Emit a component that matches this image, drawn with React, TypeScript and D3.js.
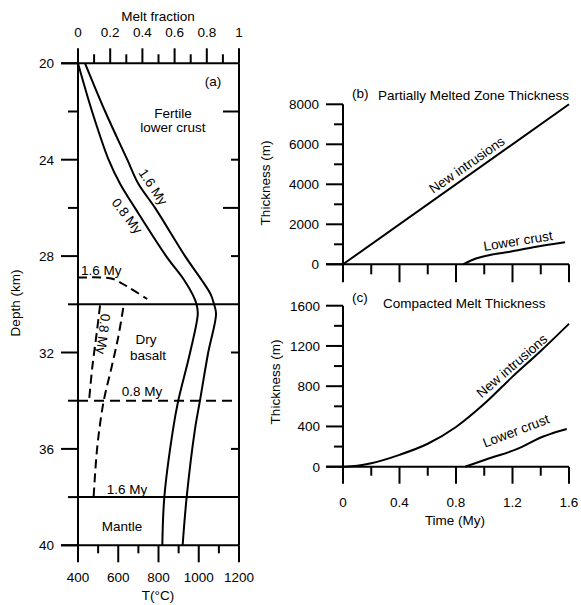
import React from "react";
import * as d3 from "d3";

// ---------- Panel (a) data ----------
const solidDepths = [20, 22, 24, 25, 26, 28, 29, 29.6, 30, 30.4, 32, 34, 35.2, 38, 40];
const temp08 = [400, 470, 552, 609, 683, 838, 928, 970, 989, 995, 957, 898, 872, 829, 819];
const temp16 = [435, 535, 645, 700, 783, 932, 1015, 1060, 1076, 1086, 1047, 1006, 981, 940, 920];

const meltUpper16Depth = [28.89, 28.89, 28.95, 29.25, 29.78];
const meltUpper16Frac = [0, 0.157, 0.219, 0.302, 0.43];
const meltBasalt08Depth = [30.04, 31.2, 32.6, 33.9];
const meltBasalt08Frac = [0.137, 0.116, 0.089, 0.07];
const meltBasalt16Depth = [30.15, 31.36, 32.6, 34, 35.9, 38];
const meltBasalt16Frac = [0.281, 0.25, 0.209, 0.16, 0.12, 0.097];

const boundaryDepths = [30, 34, 38];
const boundaryDashed = [false, true, false];

const depthMajorTicks = [20, 24, 28, 32, 36, 40];
const depthMinorTicks = [22, 26, 30, 34, 38];
const rightTicksLong = [22, 26];
const rightTicksShort = [24, 28, 32, 36];
const tempMajorTicks = [400, 600, 800, 1000, 1200];
const tempMinorTicks = [500, 700, 900, 1100];
const meltMajorTicks = [0, 0.2, 0.4, 0.6, 0.8, 1];
const meltMinorTicks = [0.1, 0.3, 0.5, 0.7, 0.9];

// ---------- Panel (b) data ----------
const timeNewB = [0, 1.6];
const thickNewB = [0, 8000];
const timeLowerB = [0.85, 0.946, 1.041, 1.182, 1.347, 1.572];
const thickLowerB = [0, 300, 465, 630, 850, 1100];
const bMajorTicks = [0, 2000, 4000, 6000, 8000];
const bMinorTicks = [1000, 3000, 5000, 7000];

// ---------- Panel (c) data ----------
const timeNewC = [0, 0.1, 0.2, 0.4, 0.6, 0.8, 1.0, 1.2, 1.4, 1.6];
const thickNewC = [0, 10, 35, 118, 228, 395, 625, 895, 1150, 1420];
const timeLowerC = [0.864, 1.017, 1.23, 1.418, 1.465, 1.584];
const thickLowerC = [0, 74, 174, 300, 324, 374];
const cMajorTicks = [0, 400, 800, 1200, 1600];
const cMinorTicks = [200, 600, 1000, 1400];

const timeMajorTicks = [0, 0.4, 0.8, 1.2, 1.6];
const timeMinorTicks = [0.2, 0.6, 1.0, 1.4];

const FONT = "'Liberation Sans', Arial, Helvetica, sans-serif";
const FS = 13.5;

export default function App() {
  // Scales panel (a)
  const xT = d3.scaleLinear().domain([400, 1200]).range([78, 239]);
  const xF = d3.scaleLinear().domain([0, 1]).range([78, 239]);
  const yD = d3.scaleLinear().domain([20, 40]).range([63.3, 545.3]);

  // Scales panel (b), (c)
  const xTime = d3.scaleLinear().domain([0, 1.6]).range([343, 569]);
  const yB = d3.scaleLinear().domain([0, 8000]).range([264.3, 104.3]);
  const yC = d3.scaleLinear().domain([0, 1600]).range([466.7, 305.7]);

  const solidLine = (temps: number[]) =>
    d3
      .line<number>()
      .x((d, i) => xT(temps[i]))
      .y((d) => yD(d))
      .curve(d3.curveCatmullRom.alpha(0.5))(solidDepths) || "";

  const meltLine = (depths: number[], fracs: number[]) =>
    d3
      .line<number>()
      .x((d, i) => xF(fracs[i]))
      .y((d) => yD(d))
      .curve(d3.curveCatmullRom.alpha(0.5))(depths) || "";

  const timeLine = (ts: number[], vs: number[], ys: d3.ScaleLinear<number, number>) =>
    d3
      .line<number>()
      .x((d) => xTime(d))
      .y((d, i) => ys(vs[i]))
      .curve(d3.curveMonotoneX)(ts) || "";

  const txt = (x: number, y: number, s: string, anchor: string = "middle", extra: any = {}) => (
    <text x={x} y={y} textAnchor={anchor as any} fontFamily={FONT} fontSize={FS} fill="#000" {...extra}>
      {s}
    </text>
  );

  const sw = 2;
  const dash = "10,6";

  return (
    <svg width={581} height={605} style={{ position: "absolute", left: 0, top: 0 }}>
      <rect x={0} y={0} width={581} height={605} fill="#fff" />
      {/* ================= Panel (a) ================= */}
      <g stroke="#000" strokeWidth={sw} fill="none">
        <line x1={xT(400)} x2={xT(400)} y1={yD(20)} y2={yD(40)} />
        <line x1={xT(1200)} x2={xT(1200)} y1={yD(20)} y2={yD(40)} />
        <line x1={xT(400) - 17} x2={xT(1200)} y1={yD(20)} y2={yD(20)} />
        <line x1={xT(400) - 17} x2={xT(1200)} y1={yD(40)} y2={yD(40)} />
        {depthMajorTicks.map((d) => (
          <line key={"lm" + d} x1={xT(400) - 17} x2={xT(400)} y1={yD(d)} y2={yD(d)} />
        ))}
        {depthMinorTicks.map((d) => (
          <line key={"ln" + d} x1={xT(400) - 10} x2={xT(400)} y1={yD(d)} y2={yD(d)} />
        ))}
        {rightTicksLong.map((d) => (
          <line key={"rl" + d} x1={xT(1200) - 16} x2={xT(1200)} y1={yD(d)} y2={yD(d)} />
        ))}
        {rightTicksShort.map((d) => (
          <line key={"rs" + d} x1={xT(1200) - 8} x2={xT(1200)} y1={yD(d)} y2={yD(d)} />
        ))}
        {meltMajorTicks.map((f) => (
          <line key={"tm" + f} x1={xF(f)} x2={xF(f)} y1={yD(20) - 15} y2={yD(20)} />
        ))}
        {meltMinorTicks.map((f) => (
          <line key={"tn" + f} x1={xF(f)} x2={xF(f)} y1={yD(20) - 9} y2={yD(20)} />
        ))}
        {tempMajorTicks.map((t) => (
          <line key={"bm" + t} x1={xT(t)} x2={xT(t)} y1={yD(40)} y2={yD(40) + 17} />
        ))}
        {tempMinorTicks.map((t) => (
          <line key={"bn" + t} x1={xT(t)} x2={xT(t)} y1={yD(40)} y2={yD(40) + 8} />
        ))}
        {boundaryDepths.map((d, i) => (
          <line
            key={"bd" + d}
            x1={xT(400)}
            x2={xT(1200)}
            y1={yD(d)}
            y2={yD(d)}
            strokeDasharray={boundaryDashed[i] ? dash : undefined}
          />
        ))}
        <path d={solidLine(temp08)} />
        <path d={solidLine(temp16)} />
        <path d={meltLine(meltUpper16Depth, meltUpper16Frac)} strokeDasharray="9,5" />
        <path d={meltLine(meltBasalt08Depth, meltBasalt08Frac)} strokeDasharray="9,5" />
        <path d={meltLine(meltBasalt16Depth, meltBasalt16Frac)} strokeDasharray="9,5" />
      </g>
      {txt(158, 21, "Melt fraction")}
      {meltMajorTicks.map((f) => (
        <React.Fragment key={"tl" + f}>{txt(xF(f), 37, String(f))}</React.Fragment>
      ))}
      {depthMajorTicks.map((d) => (
        <React.Fragment key={"dl" + d}>{txt(54, yD(d) + 5, String(d), "end")}</React.Fragment>
      ))}
      {tempMajorTicks.map((t) => (
        <React.Fragment key={"Tl" + t}>{txt(xT(t), 582, String(t))}</React.Fragment>
      ))}
      {txt(158, 600, "T(°C)")}
      {txt(0, 0, "Depth (km)", "middle", { transform: "translate(20,303) rotate(-90)" })}
      {txt(213, 86, "(a)")}
      {txt(173, 118, "Fertile")}
      {txt(173, 132, "lower crust")}
      {txt(81, 275, "1.6 My", "start")}
      {txt(146, 344, "Dry")}
      {txt(148, 360, "basalt")}
      {txt(142, 396, "0.8 My")}
      {txt(127, 494, "1.6 My")}
      {txt(122, 531, "Mantle")}
      {txt(0, 0, "1.6 My", "middle", { transform: "translate(153,187) rotate(56)", dominantBaseline: "central" })}
      {txt(0, 0, "0.8 My", "middle", { transform: "translate(127,216) rotate(52)", dominantBaseline: "central" })}
      {txt(0, 0, "0.8 My", "middle", { transform: "translate(103,334) rotate(97)", dominantBaseline: "central" })}

      {/* ================= Panel (b) ================= */}
      <g stroke="#000" strokeWidth={sw} fill="none">
        <line x1={xTime(0)} x2={xTime(0)} y1={yB(8000)} y2={yB(0)} />
        <line x1={xTime(0) - 17} x2={xTime(1.6)} y1={yB(0)} y2={yB(0)} />
        {bMajorTicks.map((v) => (
          <line key={"bym" + v} x1={xTime(0) - 17} x2={xTime(0)} y1={yB(v)} y2={yB(v)} />
        ))}
        {bMinorTicks.map((v) => (
          <line key={"byn" + v} x1={xTime(0) - 9} x2={xTime(0)} y1={yB(v)} y2={yB(v)} />
        ))}
        {timeMajorTicks.map((t) => (
          <line key={"bxm" + t} x1={xTime(t)} x2={xTime(t)} y1={yB(0)} y2={yB(0) + 18} />
        ))}
        {timeMinorTicks.map((t) => (
          <line key={"bxn" + t} x1={xTime(t)} x2={xTime(t)} y1={yB(0)} y2={yB(0) + 10} />
        ))}
        <path d={timeLine(timeNewB, thickNewB, yB)} />
        <path d={timeLine(timeLowerB, thickLowerB, yB)} />
      </g>
      {txt(352, 98, "(b)", "start")}
      {txt(378, 100, "Partially Melted Zone Thickness", "start")}
      {bMajorTicks.map((v) => (
        <React.Fragment key={"byl" + v}>{txt(319, yB(v) + 5, String(v), "end")}</React.Fragment>
      ))}
      {txt(0, 0, "Thickness (m)", "middle", { transform: "translate(270,183) rotate(-90)" })}
      {txt(0, 0, "New intrusions", "middle", { transform: "translate(467,165) rotate(-35)", dominantBaseline: "central" })}
      {txt(0, 0, "Lower crust", "middle", { transform: "translate(518,241) rotate(-9)", dominantBaseline: "central" })}

      {/* ================= Panel (c) ================= */}
      <g stroke="#000" strokeWidth={sw} fill="none">
        <line x1={xTime(0)} x2={xTime(0)} y1={yC(1600)} y2={yC(0)} />
        <line x1={xTime(0) - 17} x2={xTime(1.6)} y1={yC(0)} y2={yC(0)} />
        {cMajorTicks.map((v) => (
          <line key={"cym" + v} x1={xTime(0) - 17} x2={xTime(0)} y1={yC(v)} y2={yC(v)} />
        ))}
        {cMinorTicks.map((v) => (
          <line key={"cyn" + v} x1={xTime(0) - 9} x2={xTime(0)} y1={yC(v)} y2={yC(v)} />
        ))}
        {timeMajorTicks.map((t) => (
          <line key={"cxm" + t} x1={xTime(t)} x2={xTime(t)} y1={yC(0)} y2={yC(0) + 17} />
        ))}
        {timeMinorTicks.map((t) => (
          <line key={"cxn" + t} x1={xTime(t)} x2={xTime(t)} y1={yC(0)} y2={yC(0) + 9} />
        ))}
        <path d={timeLine(timeNewC, thickNewC, yC)} />
        <path d={timeLine(timeLowerC, thickLowerC, yC)} />
      </g>
      {txt(352, 302, "(c)", "start")}
      {txt(383, 308, "Compacted Melt Thickness", "start")}
      {cMajorTicks.map((v) => (
        <React.Fragment key={"cyl" + v}>{txt(320, yC(v) + 5, String(v), "end")}</React.Fragment>
      ))}
      {timeMajorTicks.map((t) => (
        <React.Fragment key={"cxl" + t}>{txt(xTime(t), 507, String(t))}</React.Fragment>
      ))}
      {txt(455, 525, "Time (My)")}
      {txt(0, 0, "Thickness (m)", "middle", { transform: "translate(280,382) rotate(-90)" })}
      {txt(0, 0, "New intrusions", "middle", { transform: "translate(512,366) rotate(-41)", dominantBaseline: "central" })}
      {txt(0, 0, "Lower crust", "middle", { transform: "translate(516,431) rotate(-21)", dominantBaseline: "central" })}
    </svg>
  );
}
